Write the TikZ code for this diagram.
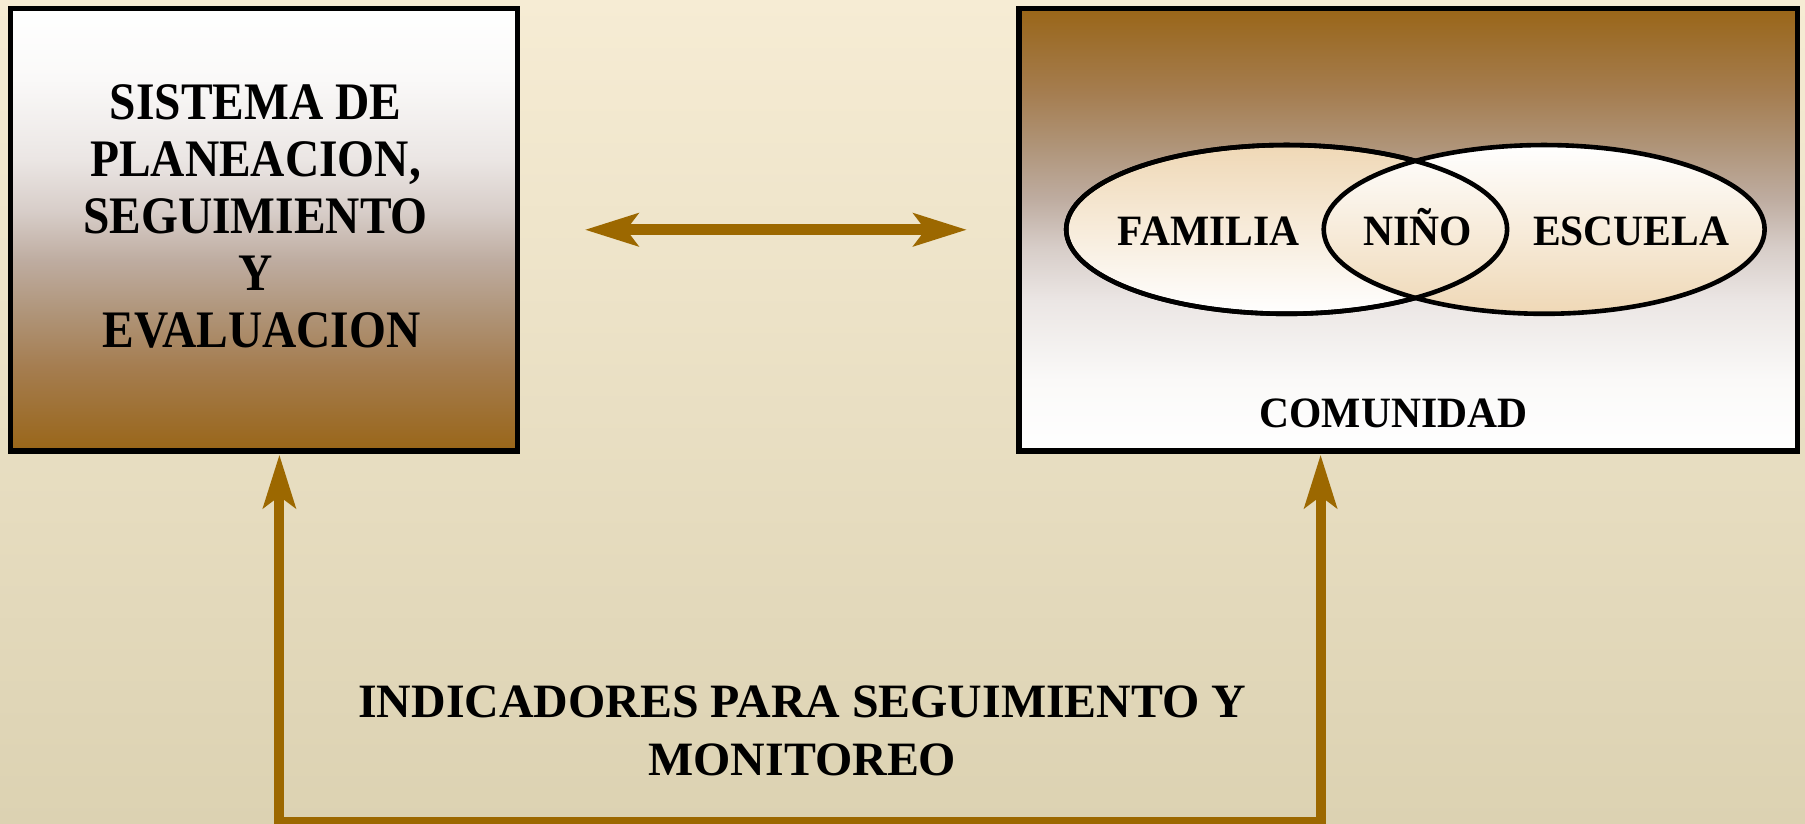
\documentclass[tikz,border=0pt]{standalone}
\usepackage{fontspec}
\setmainfont{Liberation Serif}
\newfontfamily\narrowserif{Liberation Serif}[FakeStretch=0.9]
\newfontfamily\labelserif{Liberation Serif}[FakeStretch=0.96]
\usepackage{tikz}
\usetikzlibrary{arrows.meta}
\usetikzlibrary{shapes.geometric}
\usetikzlibrary{calc}
\usepackage{xcolor}
\definecolor{bgtop}{RGB}{246,236,212}
\definecolor{bgbot}{RGB}{220,210,178}
\definecolor{arrowgold}{RGB}{156,104,0}
\definecolor{sepia}{RGB}{154,102,24}
\definecolor{sepiaA}{RGB}{157,110,45}
\definecolor{sepiaB}{RGB}{165,125,80}
\definecolor{sepiaC}{RGB}{175,148,120}
\definecolor{sepiaD}{RGB}{190,172,160}
\definecolor{sepiaE}{RGB}{215,205,200}
\definecolor{sepiaF}{RGB}{235,230,228}
\definecolor{sepiaG}{RGB}{250,249,248}
\definecolor{venntan}{RGB}{239,216,182}
\pgfdeclareverticalshading{sepiafade}{100bp}{color(0bp)=(sepia); color(25bp)=(sepia); color(28.5bp)=(sepiaA); color(34.5bp)=(sepiaB); color(40.5bp)=(sepiaC); color(46.5bp)=(sepiaD); color(52bp)=(sepiaE); color(58bp)=(sepiaF); color(67bp)=(sepiaG); color(75bp)=(white); color(100bp)=(white)}

\begin{document}
\begin{tikzpicture}[x=1pt, y=1pt,
	panel/.style={draw=black, line width=4.4pt, shading=sepiafade, inner sep=0pt, minimum height=384.4pt},
	venn/.style={ellipse, draw=black, line width=4pt, inner sep=0pt, minimum width=383pt, minimum height=146.6pt},
	link/.style={draw=arrowgold, line width=#1, {Stealth[length=46pt, width=28pt, inset=10pt]}-{Stealth[length=46pt, width=28pt, inset=10pt]}},
	boxtext/.style={font=\fontsize{45.8pt}{49.6pt}\narrowserif\bfseries, align=center, inner sep=0pt},
	venntext/.style={font=\fontsize{37.6pt}{44pt}\labelserif\bfseries, inner sep=0pt, anchor=base}]
	\useasboundingbox (0,0) rectangle (1568,715);
	\shade[top color=bgtop, bottom color=bgbot] (0,0) rectangle (1568,715);
	\node[panel, minimum width=439.8pt] (planea) at (229.4,515.4) {};
	\node[panel, minimum width=676.6pt, shading angle=180] (comunidad) at (1223.5,515.4) {};
	\node[boxtext] (planeatxt) at (222,527) {SISTEMA DE\\PLANEACION,\\SEGUIMIENTO\\Y\\\ EVALUACION};
	\node[venn, top color=venntan, bottom color=white] (familia) at (1117.7,515.7) {};
	\node[venn, top color=white, bottom color=venntan] (escuela) at (1341.4,515.7) {};
	\node[venn] (familiarim) at (familia) {};
	\node[venntext] (familiatxt) at (1049.9,501.6) {FAMILIA};
	\node[venntext] (ninotxt) at (1231.7,501.6) {NIÑO};
	\node[venntext] (escuelatxt) at (1417.1,501.6) {ESCUELA};
	\node[venntext] (comunidadtxt) at (1210.5,343.5) {COMUNIDAD};
	\draw[link=9.5pt, shorten <=56.5pt, shorten >=43pt] (planea.east) -- (comunidad.west);
	\coordinate (lb) at (242.7,1);
	\coordinate (rb) at (1147.2,1);
	\draw[link=8.5pt, shorten <=1pt, shorten >=1pt] (lb |- planea.south) -- (lb) -- (rb) -- (rb |- comunidad.south);
	\node[font=\fontsize{41.6pt}{50.6pt}\selectfont\bfseries, align=center, inner sep=0pt] (indicadores) at (697,80.2) {INDICADORES PARA SEGUIMIENTO Y\\MONITOREO};
\end{tikzpicture}
\end{document}
